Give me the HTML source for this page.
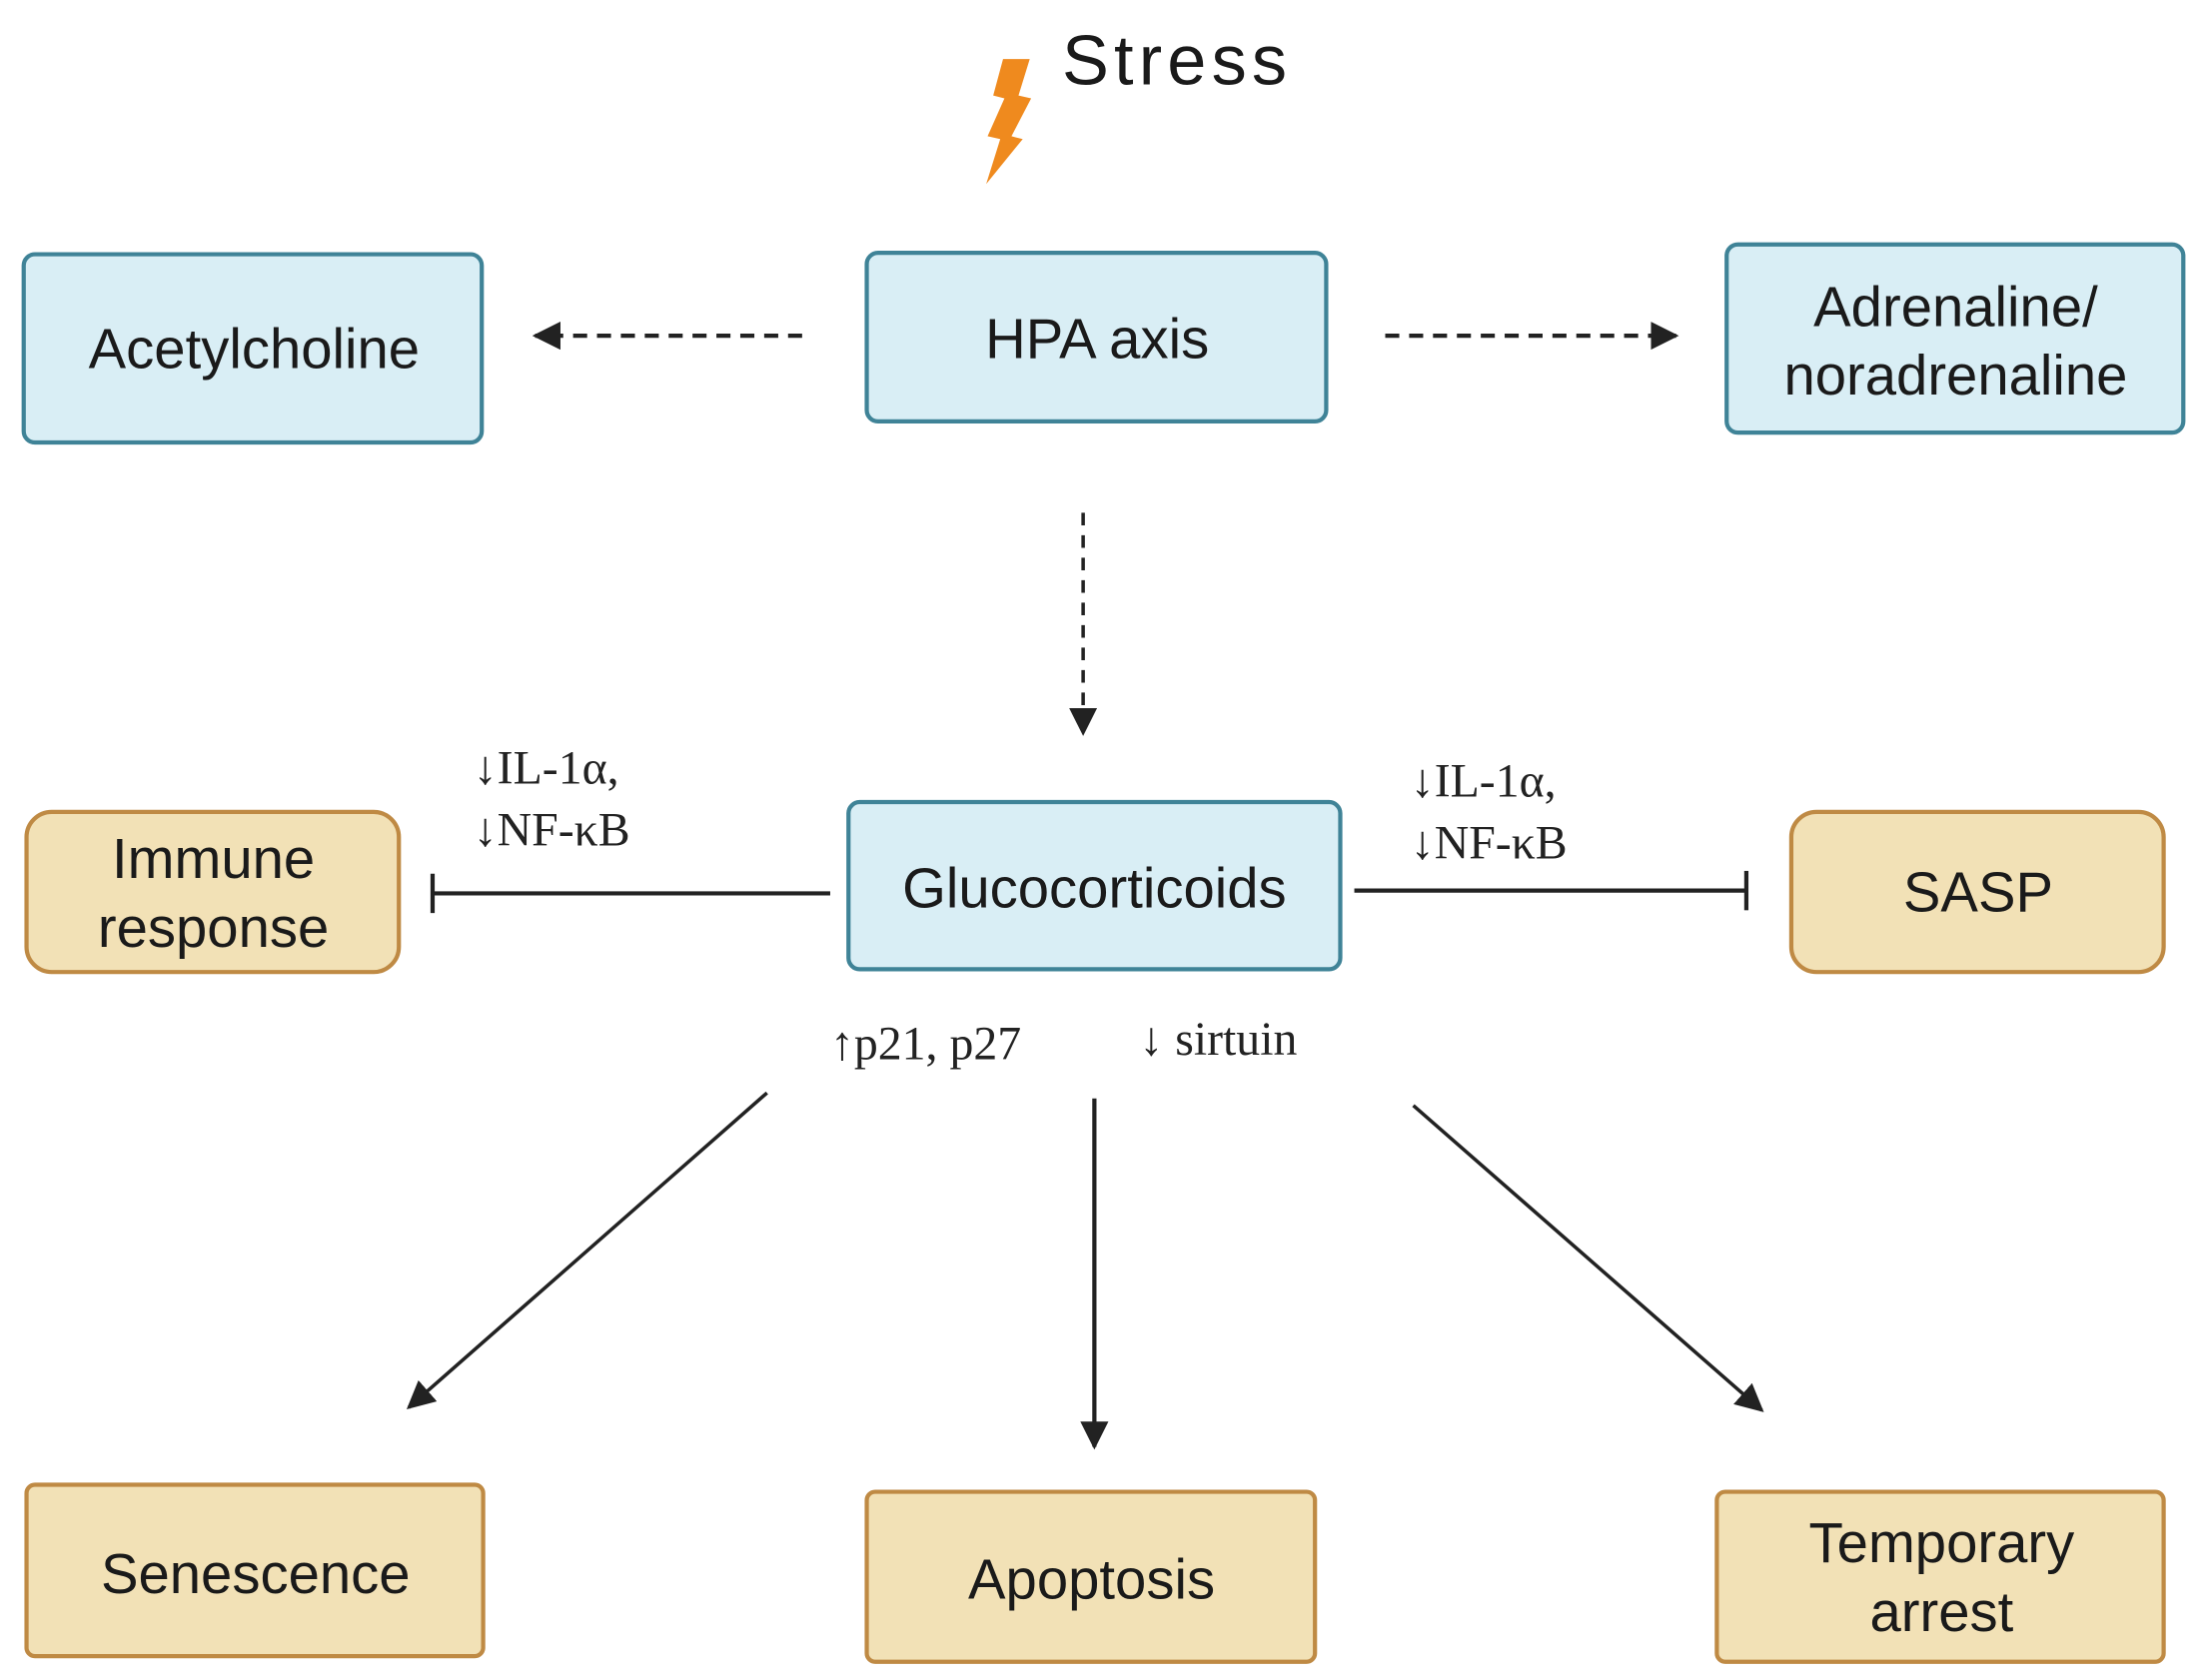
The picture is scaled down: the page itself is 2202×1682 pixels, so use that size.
<!DOCTYPE html>
<html><head><meta charset="utf-8"><style>
html,body{margin:0;padding:0;background:#fff;}
svg{display:block;}
text{font-family:"Liberation Sans",sans-serif;fill:#1a1a1a;}
.s{font-family:"Liberation Serif",serif;font-size:34px;fill:#222;}
</style></head><body>
<svg width="2202" height="1682" viewBox="0 0 1564 1196" xmlns="http://www.w3.org/2000/svg">
<defs>
<marker id="ah2" viewBox="0 0 10 10" refX="9" refY="5" markerWidth="20" markerHeight="20" markerUnits="userSpaceOnUse" orient="auto"><path d="M0,0 L10,5 L0,10 z" fill="#222"/></marker>
</defs>
<text x="755" y="60" font-size="50" textLength="160">Stress</text>
<polygon points="713,42 732,42 724,68 733,70 719,97 727,99 701,131 711,99 702,97 714,70 706,68" fill="#ef8a1e"/>
<g fill="#d9eef5" stroke="#3f8397" stroke-width="3">
<rect x="16" y="181" width="326" height="134" rx="8"/>
<rect x="616" y="180" width="327" height="120" rx="8"/>
<rect x="1228" y="174" width="325" height="134" rx="8"/>
<rect x="603" y="571" width="350" height="119" rx="8"/>
</g>
<g fill="#f2e1b6" stroke="#bf8a44" stroke-width="3">
<rect x="18" y="578" width="265" height="114" rx="18"/>
<rect x="1274" y="578" width="265" height="114" rx="18"/>
<rect x="18" y="1057" width="325" height="122" rx="6"/>
<rect x="616" y="1062" width="319" height="121" rx="6"/>
<rect x="1221" y="1062" width="318" height="121" rx="6"/>
</g>
<g font-size="40" text-anchor="middle">
<text x="180" y="262">Acetylcholine</text>
<text x="780" y="255">HPA axis</text>
<text x="1391" y="232">Adrenaline/</text>
<text x="1391" y="281">noradrenaline</text>
<text x="778" y="646">Glucocorticoids</text>
<text x="151" y="625">Immune</text>
<text x="151" y="674">response</text>
<text x="1407" y="649">SASP</text>
<text x="181" y="1134">Senescence</text>
<text x="776" y="1138">Apoptosis</text>
<text x="1381" y="1112">Temporary</text>
<text x="1381" y="1161">arrest</text>
</g>
<g stroke="#222" stroke-width="3" fill="none">
<line x1="570" y1="239" x2="380" y2="239" stroke-dasharray="10,7" marker-end="url(#ah2)"/>
<line x1="985" y1="239" x2="1192" y2="239" stroke-dasharray="10,7" marker-end="url(#ah2)"/>
<line x1="770" y1="365" x2="770" y2="522" stroke-width="2.5" stroke-dasharray="9,7" marker-end="url(#ah2)"/>
<line x1="590" y1="636" x2="307" y2="636"/>
<line x1="307" y1="622" x2="307" y2="650"/>
<line x1="963" y1="634" x2="1242" y2="634"/>
<line x1="1242" y1="620" x2="1242" y2="648"/>
<line x1="545" y1="778" x2="290" y2="1002" stroke-width="2.5" marker-end="url(#ah2)"/>
<line x1="778" y1="782" x2="778" y2="1030" stroke-width="3" marker-end="url(#ah2)"/>
<line x1="1005" y1="787" x2="1253" y2="1004" stroke-width="2.5" marker-end="url(#ah2)"/>
</g>
<text class="s" x="336" y="558">↓IL-1α,</text>
<text class="s" x="336" y="602">↓NF-κB</text>
<text class="s" x="1003" y="567">↓IL-1α,</text>
<text class="s" x="1003" y="611">↓NF-κB</text>
<text class="s" x="590" y="754">↑p21, p27</text>
<text class="s" x="810" y="751">↓ sirtuin</text>
</svg>
</body></html>
